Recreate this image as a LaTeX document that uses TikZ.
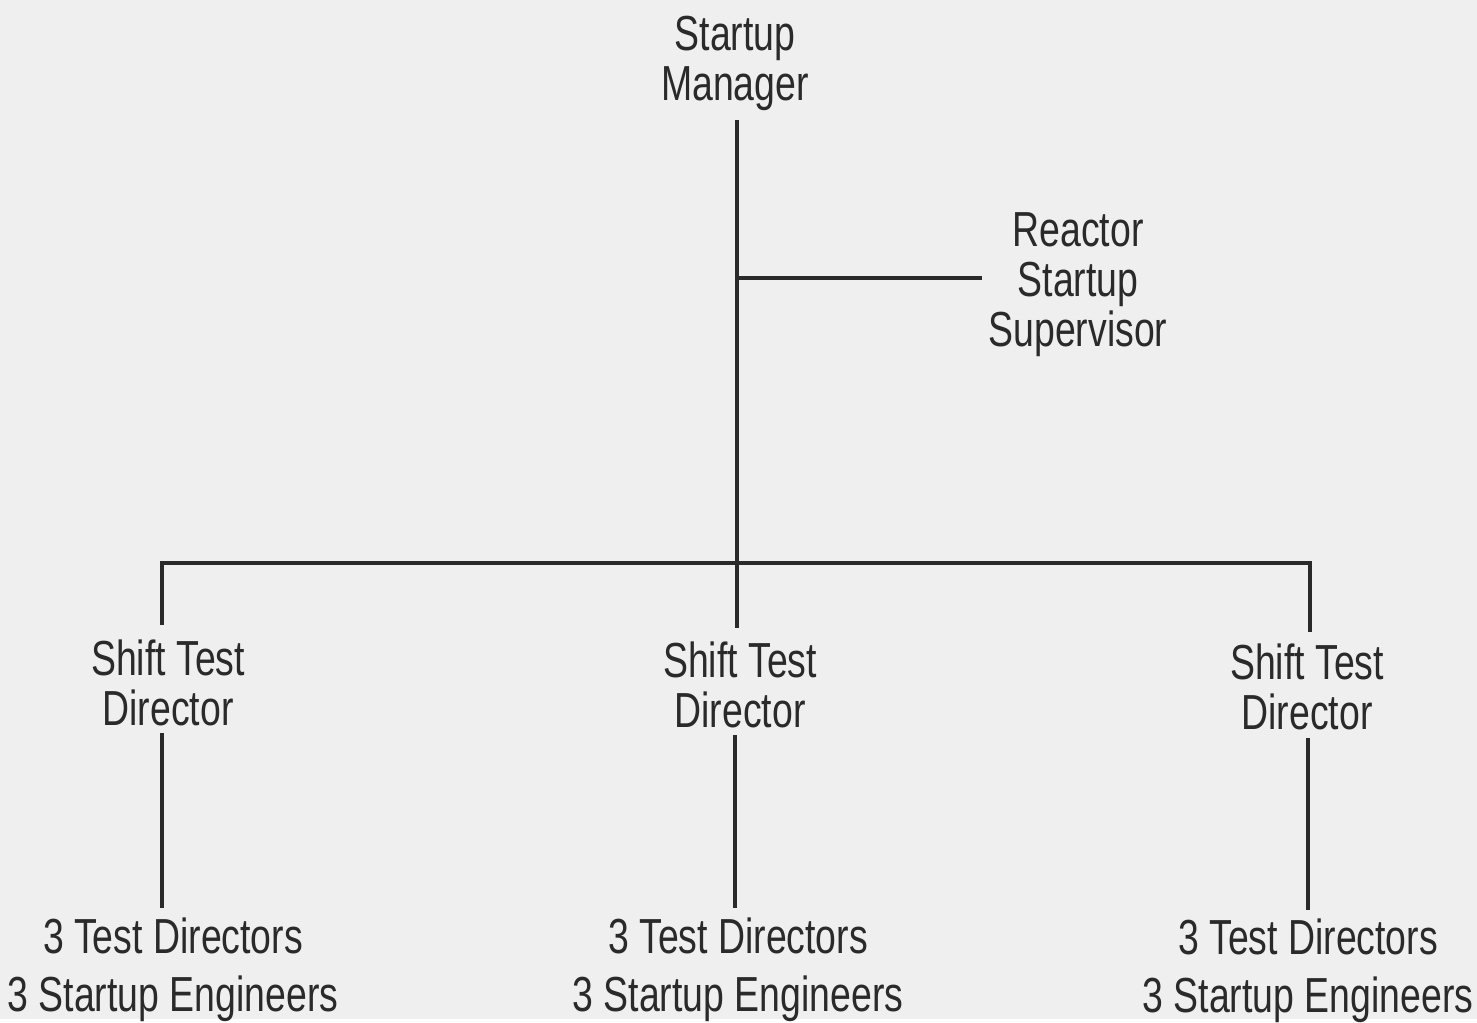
\documentclass[tikz,border=0pt]{standalone}
\usepackage{fontspec}
\setmainfont[FakeStretch=0.76]{Liberation Sans}
\definecolor{bg}{HTML}{EFEFEF}
\definecolor{ink}{HTML}{2A2A2A}
\begin{document}
\begin{tikzpicture}[x=0.01cm,y=-0.01cm,
  ln/.style={line width=0.9pt, draw=ink},
  lbl/.style={align=center, inner sep=0pt, text=ink, font=\fontsize{14}{14.2}\selectfont},
  team/.style={align=center, inner sep=0pt, text=ink, font=\fontsize{14}{16.5}\selectfont}]
\fill[bg] (0,0) rectangle (1477,1019);
\node[lbl] (mgr) at (735,63) {Startup\\Manager};
\node[lbl] (rss) at (1078,285) {Reactor\\Startup\\Supervisor};
\node[lbl] (std1) at (168,683) {Shift Test\\Director};
\node[lbl] (std2) at (740,685) {Shift Test\\Director};
\node[lbl] (std3) at (1307,687) {Shift Test\\Director};
\node[team] (tm1) at (173,970) {3 Test Directors\\3 Startup Engineers};
\node[team] (tm2) at (738,970) {3 Test Directors\\3 Startup Engineers};
\node[team] (tm3) at (1308,971) {3 Test Directors\\3 Startup Engineers};
% junctions
\coordinate (m0) at (737,120);
\coordinate (m1) at (737,628);
\coordinate (rj) at (737,278);
\coordinate (r1) at (982,278);
\coordinate (b1) at (162,625);
\coordinate (b3) at (1310,632);
\coordinate (bar) at (737,563);
% connectors
\draw[ln] (m0) -- (m1);
\draw[ln] (rj) -- (r1);
\draw[ln] (b1) |- (bar) -| (b3);
\draw[ln] (162,733) coordinate (s1) -- (162,908) coordinate (t1);
\draw[ln] (735,735) coordinate (s2) -- (735,908) coordinate (t2);
\draw[ln] (1308,738) coordinate (s3) -- (1308,910) coordinate (t3);
\end{tikzpicture}
\end{document}
